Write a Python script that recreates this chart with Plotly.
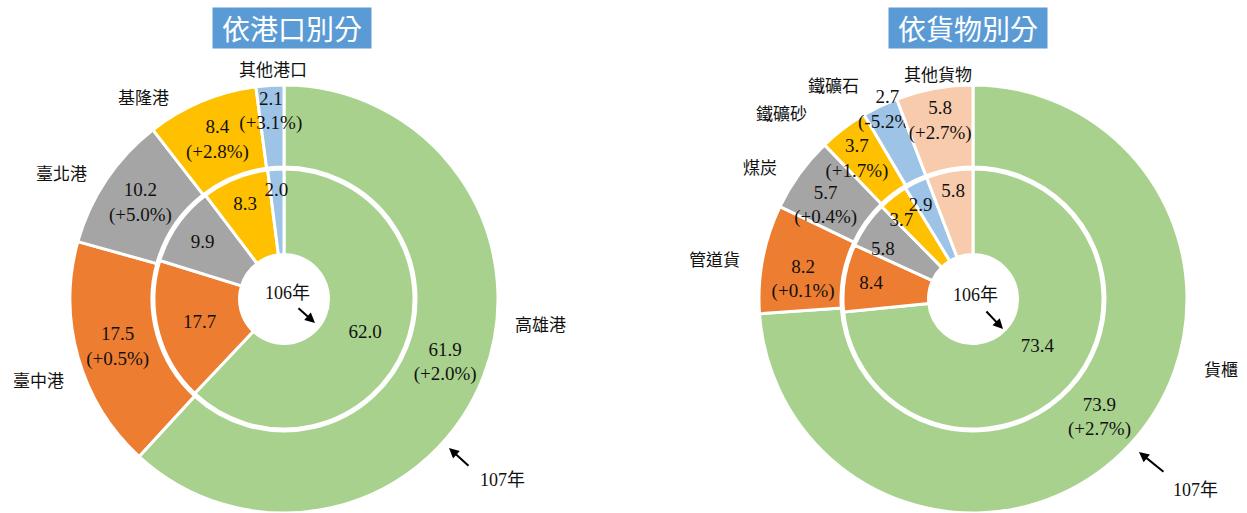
import plotly.graph_objects as go

# ---------------- data ----------------
port_labels = ["高雄港", "臺中港", "臺北港", "基隆港", "其他港口"]
port_107 = [61.9, 17.5, 10.2, 8.4, 2.1]
port_106 = [62.0, 17.7, 9.9, 8.3, 2.0]
port_growth = [2.0, 0.5, 5.0, 2.8, 3.1]

cargo_labels = ["貨櫃", "管道貨", "煤炭", "鐵礦砂", "鐵礦石", "其他貨物"]
cargo_107 = [73.9, 8.2, 5.7, 3.7, 2.7, 5.8]
cargo_106 = [73.4, 8.4, 5.8, 3.7, 2.9, 5.8]
cargo_growth = [2.7, 0.1, 0.4, 1.7, -5.2, 2.7]

port_colors = ["#A9D18E", "#ED7D31", "#A5A5A5", "#FFC000", "#9DC3E6"]
cargo_colors = ["#A9D18E", "#ED7D31", "#A5A5A5", "#FFC000", "#9DC3E6", "#F8CBAD"]

# label nudges (-1: push text block down a half line, +1: push up, 0: none)
port_out_nudge = [0, 0, 0, 0, -1]
port_in_nudge = [0, 0, 0, 0, -1]
cargo_out_nudge = [0, -1, -1, -1, 1, 0]
cargo_in_nudge = [1, 0, -1, -1, -1, 0]

W, H = 1247, 513
FONT = "Liberation Serif, Times New Roman, Noto Sans CJK TC, serif"
CJK = "Noto Sans CJK TC, Liberation Serif, serif"
NB = "\u00a0"


def px(x, y):
    return x / W, 1 - y / H


def dom(cx, cy, r):
    return dict(x=[(cx - r) / W, (cx + r) / W], y=[(H - cy - r) / H, (H - cy + r) / H])


def nudge(s, n):
    if n < 0:
        return NB + "<br>" + s
    if n > 0:
        return s + "<br>" + NB
    return s


def outer_text(vals, gr, nd):
    return [nudge(f"{v:.1f}<br>({g:+.1f}%)", n) for v, g, n in zip(vals, gr, nd)]


def inner_text(vals, nd):
    return [nudge(f"{v:.1f}", n) for v, n in zip(vals, nd)]


fig = go.Figure()

R_OUT, R_IN = 214, 130
CY = 299
for cx, labels, v107, v106, gr, cols, ndo, ndi in [
    (284, port_labels, port_107, port_106, port_growth, port_colors, port_out_nudge, port_in_nudge),
    (973, cargo_labels, cargo_107, cargo_106, cargo_growth, cargo_colors, cargo_out_nudge, cargo_in_nudge),
]:
    fig.add_trace(go.Pie(
        labels=labels, values=v107, text=outer_text(v107, gr, ndo),
        textinfo="text", textposition="inside", insidetextorientation="horizontal",
        sort=False, direction="clockwise", rotation=0, hole=132 / R_OUT,
        marker=dict(colors=cols, line=dict(color="white", width=3)),
        textfont=dict(family=FONT, size=19, color="#111111"),
        domain=dom(cx, CY, R_OUT), showlegend=False, hoverinfo="skip",
    ))
    fig.add_trace(go.Pie(
        labels=labels, values=v106, text=inner_text(v106, ndi),
        textinfo="text", textposition="inside", insidetextorientation="horizontal",
        sort=False, direction="clockwise", rotation=0, hole=44.5 / R_IN,
        marker=dict(colors=cols, line=dict(color="white", width=3)),
        textfont=dict(family=FONT, size=19, color="#111111"),
        domain=dom(cx, CY, R_IN), showlegend=False, hoverinfo="skip",
    ))

annotations = []

# titles
for cx, t in [(292, "依港口別分"), (968, "依貨物別分")]:
    x, y = px(cx, 28)
    annotations.append(dict(x=x, y=y, xref="paper", yref="paper", text=t, showarrow=False,
                            font=dict(family=CJK, size=28, color="white"), bgcolor="#5B9BD5",
                            width=156, height=38, borderpad=1, xanchor="center", yanchor="middle"))

# category labels
label_pos = {
    "高雄港": (540, 323), "臺中港": (38, 379), "臺北港": (61, 172),
    "基隆港": (143, 96), "其他港口": (273, 68),
    "貨櫃": (1221, 368), "管道貨": (714, 258), "煤炭": (760, 167),
    "鐵礦砂": (781, 112), "鐵礦石": (833, 84), "其他貨物": (938, 73),
}
for name in port_labels + cargo_labels:
    x, y = px(*label_pos[name])
    annotations.append(dict(x=x, y=y, xref="paper", yref="paper", text=name, showarrow=False,
                            font=dict(family=CJK, size=17, color="#111111"),
                            xanchor="center", yanchor="middle"))

# year labels
for tx, ty, t in [(287, 293, "106年"), (975, 295, "106年"), (502, 480, "107年"), (1195, 490, "107年")]:
    x, y = px(tx, ty)
    annotations.append(dict(x=x, y=y, xref="paper", yref="paper", text=t, showarrow=False,
                            font=dict(family=FONT, size=18, color="#111111"),
                            xanchor="center", yanchor="middle"))

# arrows (head, tail)
for hx, hy, tx, ty in [(315, 323, 297, 307), (1003, 329, 985, 310),
                       (449, 448, 470, 467), (1139, 452, 1165, 473)]:
    x, y = px(hx, hy)
    annotations.append(dict(x=x, y=y, xref="paper", yref="paper", text="", showarrow=True,
                            ax=tx - hx, ay=ty - hy, arrowhead=2, arrowsize=1, arrowwidth=2,
                            arrowcolor="black", standoff=0))

fig.update_layout(
    width=W, height=H, margin=dict(l=0, r=0, t=0, b=0),
    paper_bgcolor="white", plot_bgcolor="white",
    annotations=annotations,
    uniformtext=dict(minsize=19, mode="show"),
)

fig.write_html("out.html", config={"displayModeBar": False},
               post_script="document.body.style.margin='0px';document.body.style.overflow='hidden';")
